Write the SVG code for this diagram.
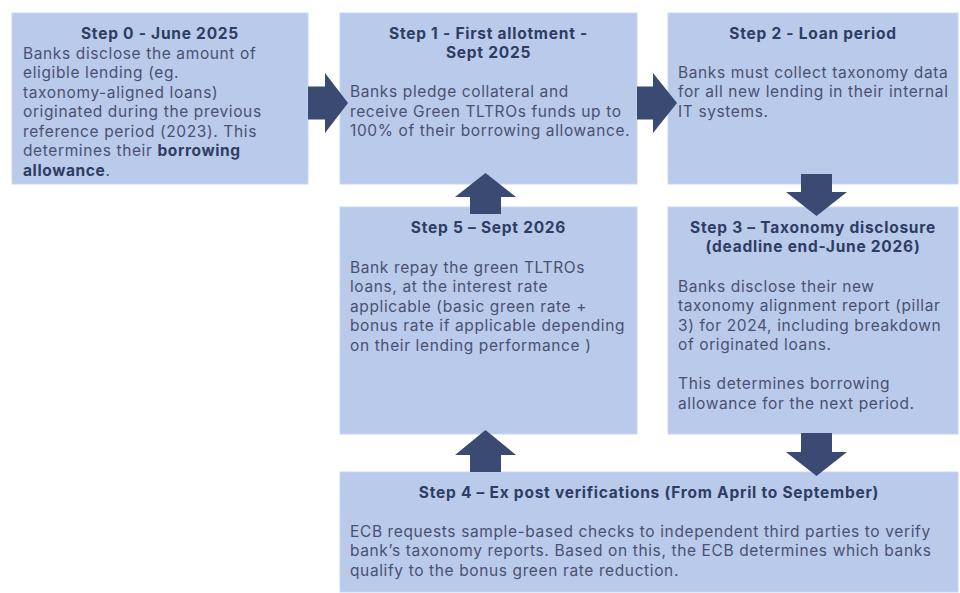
<svg xmlns="http://www.w3.org/2000/svg" width="960" height="593" viewBox="0 0 960 593">
<style>
.box{fill:#b9caeb;stroke:#c9d6f0;stroke-width:1}
.t{font-family:Inter,"Open Sans","Liberation Sans",sans-serif;font-size:15.5px;font-weight:bold;fill:#2f3c63;text-anchor:middle;letter-spacing:0.75px}
.b{font-family:Inter,"Open Sans","Liberation Sans",sans-serif;font-size:15.5px;fill:#4a5170;letter-spacing:0.62px}
.bb{font-weight:bold;fill:#2f3c63}
.arr{fill:#3b4a72}
</style>
<rect width="960" height="593" fill="#ffffff"/>
<g id="step0">
<rect class="box" x="12" y="13" width="296" height="171"/>
<text class="t" x="160" y="38.5">Step 0 - June 2025</text>
<text class="b" x="23" y="58.5">Banks disclose the amount of</text>
<text class="b" x="23" y="78">eligible lending (eg.</text>
<text class="b" x="23" y="97.5">taxonomy-aligned loans)</text>
<text class="b" x="23" y="117">originated during the previous</text>
<text class="b" x="23" y="136.5">reference period (2023). This</text>
<text class="b" x="23" y="156">determines their <tspan class="bb">borrowing</tspan></text>
<text class="b" x="23" y="175.5"><tspan class="bb">allowance</tspan>.</text>
</g>
<g id="step1">
<rect class="box" x="340" y="13" width="297" height="171"/>
<text class="t" x="488.5" y="38.5">Step 1 - First allotment -</text>
<text class="t" x="488.5" y="58">Sept 2025</text>
<text class="b" x="350" y="97">Banks pledge collateral and</text>
<text class="b" x="350" y="116.5">receive Green TLTROs funds up to</text>
<text class="b" x="350" y="136">100% of their borrowing allowance.</text>
</g>
<g id="step2">
<rect class="box" x="668" y="13" width="290" height="171"/>
<text class="t" x="813" y="38.5">Step 2 - Loan period</text>
<text class="b" x="678" y="77.5">Banks must collect taxonomy data</text>
<text class="b" x="678" y="97">for all new lending in their internal</text>
<text class="b" x="678" y="116.5">IT systems.</text>
</g>
<g id="step5">
<rect class="box" x="340" y="207" width="297" height="227"/>
<text class="t" x="488.5" y="232.5">Step 5 – Sept 2026</text>
<text class="b" x="350" y="272.5">Bank repay the green TLTROs</text>
<text class="b" x="350" y="292">loans, at the interest rate</text>
<text class="b" x="350" y="311.5">applicable (basic green rate +</text>
<text class="b" x="350" y="331">bonus rate if applicable depending</text>
<text class="b" x="350" y="350.5">on their lending performance )</text>
</g>
<g id="step3">
<rect class="box" x="668" y="207" width="290" height="227"/>
<text class="t" x="813" y="232.5">Step 3 – Taxonomy disclosure</text>
<text class="t" x="813" y="251.5">(deadline end-June 2026)</text>
<text class="b" x="678" y="291.5">Banks disclose their new</text>
<text class="b" x="678" y="311">taxonomy alignment report (pillar</text>
<text class="b" x="678" y="330.5">3) for 2024, including breakdown</text>
<text class="b" x="678" y="350">of originated loans.</text>
<text class="b" x="678" y="389">This determines borrowing</text>
<text class="b" x="678" y="408.5">allowance for the next period.</text>
</g>
<g id="step4">
<rect class="box" x="340" y="472" width="618" height="120"/>
<text class="t" x="649" y="497.5">Step 4 – Ex post verifications (From April to September)</text>
<text class="b" x="350" y="536.5">ECB requests sample-based checks to independent third parties to verify</text>
<text class="b" x="350" y="556">bank’s taxonomy reports. Based on this, the ECB determines which banks</text>
<text class="b" x="350" y="575.5">qualify to the bonus green rate reduction.</text>
</g>
<g id="connectors">
<polygon class="arr" points="308,86.5 325,86.5 325,73 348,103 325,133 325,119.5 308,119.5"/>
<polygon class="arr" points="637,86.5 653,86.5 653,73 677,103 653,133 653,119.5 637,119.5"/>
<polygon class="arr" points="801,174 832,174 832,192 847,192 816.5,216 786,192 801,192"/>
<polygon class="arr" points="801,433 832,433 832,452 847,452 816.5,476 786,452 801,452"/>
<polygon class="arr" points="485.5,430 516,455 501,455 501,472 470,472 470,455 455,455"/>
<polygon class="arr" points="485.5,173 516,197 501,197 501,214 470,214 470,197 455,197"/>
</g>
</svg>
